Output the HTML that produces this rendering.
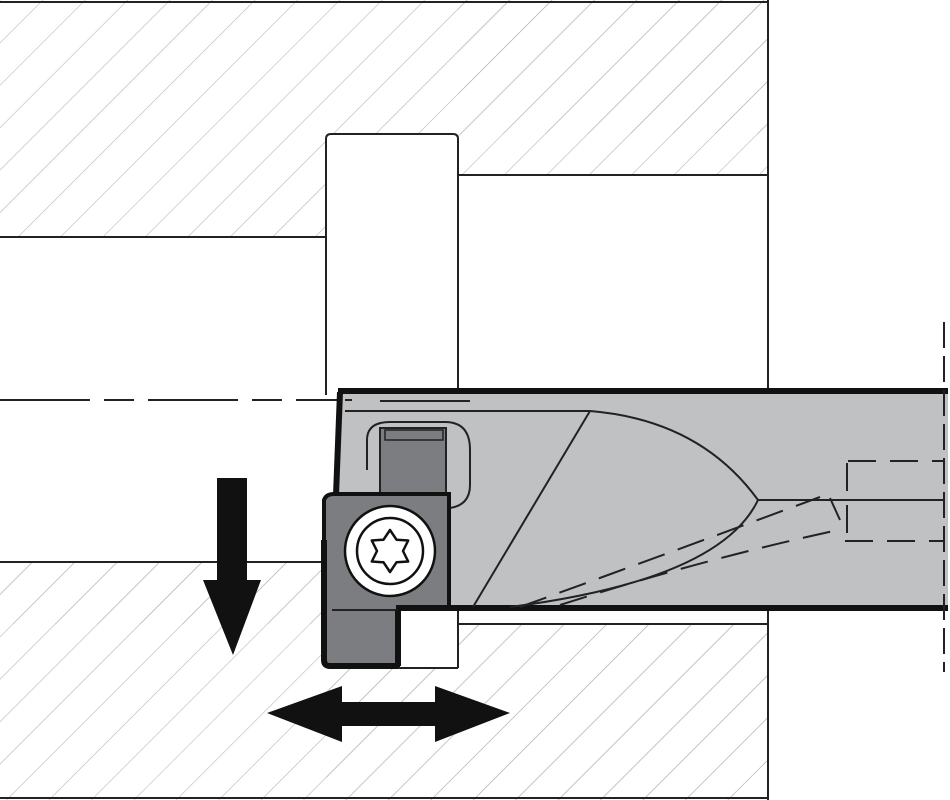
<!DOCTYPE html>
<html><head><meta charset="utf-8"><style>html,body{margin:0;padding:0;background:#fff}svg{display:block}</style></head>
<body>
<svg width="950" height="800" viewBox="0 0 950 800" xmlns="http://www.w3.org/2000/svg">
<defs>
<pattern id="h" patternUnits="userSpaceOnUse" width="30" height="30" patternTransform="rotate(45)">
<line x1="0" y1="0" x2="0" y2="30" stroke="#b8b8b8" stroke-width="1.2"/>
</pattern>
</defs>
<rect x="0" y="0" width="768" height="237" fill="url(#h)"/>
<rect x="326" y="134" width="442" height="103" fill="#fff"/>
<rect x="458" y="0" width="310" height="175" fill="url(#h)"/>
<rect x="326" y="134" width="132" height="103" fill="#fff"/>
<rect x="0" y="562" width="768" height="238" fill="url(#h)"/>
<rect x="326" y="390" width="442" height="234" fill="#fff"/>
<rect x="0" y="562" width="326" height="62" fill="url(#h)"/>
<rect x="326" y="624" width="442" height="176" fill="url(#h)"/>
<g stroke="#222" stroke-width="2" fill="none">
<line x1="0" y1="2" x2="768" y2="2"/>
<line x1="768" y1="0" x2="768" y2="800"/>
<line x1="0" y1="798" x2="768" y2="798"/>
<line x1="0" y1="237" x2="326" y2="237"/>
<line x1="458" y1="175" x2="768" y2="175"/>
<path d="M326 395 V139 Q326 134 331 134 H453 Q458 134 458 139 V392"/>
<line x1="0" y1="562" x2="326" y2="562"/>
<line x1="458" y1="624" x2="768" y2="624"/>
<line x1="458" y1="610" x2="458" y2="668"/>
<line x1="395" y1="668" x2="458" y2="668"/>
</g>
<rect x="398" y="612" width="59" height="55" fill="#fff"/>
<line x1="0" y1="400" x2="470" y2="400" stroke="#222" stroke-width="2" stroke-dasharray="90,14,30,14"/>
<rect x="338" y="391" width="610" height="218" fill="#c0c1c3"/>
<line x1="338" y1="391" x2="948" y2="391" stroke="#111" stroke-width="6"/>
<line x1="395" y1="608" x2="948" y2="608" stroke="#111" stroke-width="6"/>
<line x1="345" y1="411" x2="590" y2="411" stroke="#222" stroke-width="2"/>
<line x1="380" y1="401" x2="470" y2="401" stroke="#222" stroke-width="2"/>
<line x1="345" y1="400" x2="352" y2="400" stroke="#222" stroke-width="2"/>
<line x1="340" y1="392" x2="336" y2="495" stroke="#111" stroke-width="6"/>
<g stroke="#222" stroke-width="2" fill="none">
<path d="M590 411 Q700 420 758 500"/>
<path d="M758 500 Q720 580 510 607"/>
<line x1="758" y1="500" x2="944" y2="500"/>
<line x1="590" y1="411" x2="473" y2="607"/>
</g>
<g stroke="#222" stroke-width="2" fill="none" stroke-dasharray="28,14">
<path d="M520 607 Q650 560 820 497"/>
<path d="M560 605 Q700 560 838 530"/>
<path d="M830 498 L840 520"/>
<path d="M847 463 V540"/>
<path d="M848 461 H944"/>
<path d="M845 541 H944"/>
</g>
<line x1="944" y1="322" x2="944" y2="672" stroke="#222" stroke-width="2" stroke-dasharray="26,8"/>
<path d="M367 470 V440 Q367 422 390 422 H445 Q470 422 470 450 V485 Q470 505 450 508" fill="#c0c1c3" stroke="#222" stroke-width="2"/>
<rect x="380" y="428" width="66" height="68" fill="#7c7d80" stroke="#222" stroke-width="2"/>
<rect x="385" y="430" width="58" height="10" fill="#7c7d80" stroke="#222" stroke-width="1.5"/>
<path d="M334 494 H449 V607 H398 V665 H327 Q324 665 324 660 V500 Q326 494 334 494 Z" fill="#7c7d80" stroke="#111" stroke-width="4"/>
<line x1="332" y1="610" x2="398" y2="610" stroke="#222" stroke-width="2"/>
<path d="M324 540 V660 Q324 666 330 666 H398" fill="none" stroke="#111" stroke-width="6"/>
<line x1="398" y1="610" x2="398" y2="666" stroke="#111" stroke-width="6"/>
<circle cx="390" cy="551" r="45" fill="#fff" stroke="#111" stroke-width="2.5"/>
<circle cx="390" cy="551" r="33" fill="#fff" stroke="#111" stroke-width="2.5"/>
<polygon points="390,530 396.5,539.7 408.2,540.5 403,551 408.2,561.5 396.5,562.3 390,572 383.5,562.3 371.8,561.5 377,551 371.8,540.5 383.5,539.7" fill="#fff" stroke="#111" stroke-width="2.5" stroke-linejoin="round"/>
<polygon points="217,478 247,478 247,580 261,580 233,655 203,580 217,580" fill="#111"/>
<polygon points="267,713 342,686 342,702 435,702 435,686 510,713 435,742 435,726 342,726 342,742" fill="#111"/>
</svg>
</body></html>
